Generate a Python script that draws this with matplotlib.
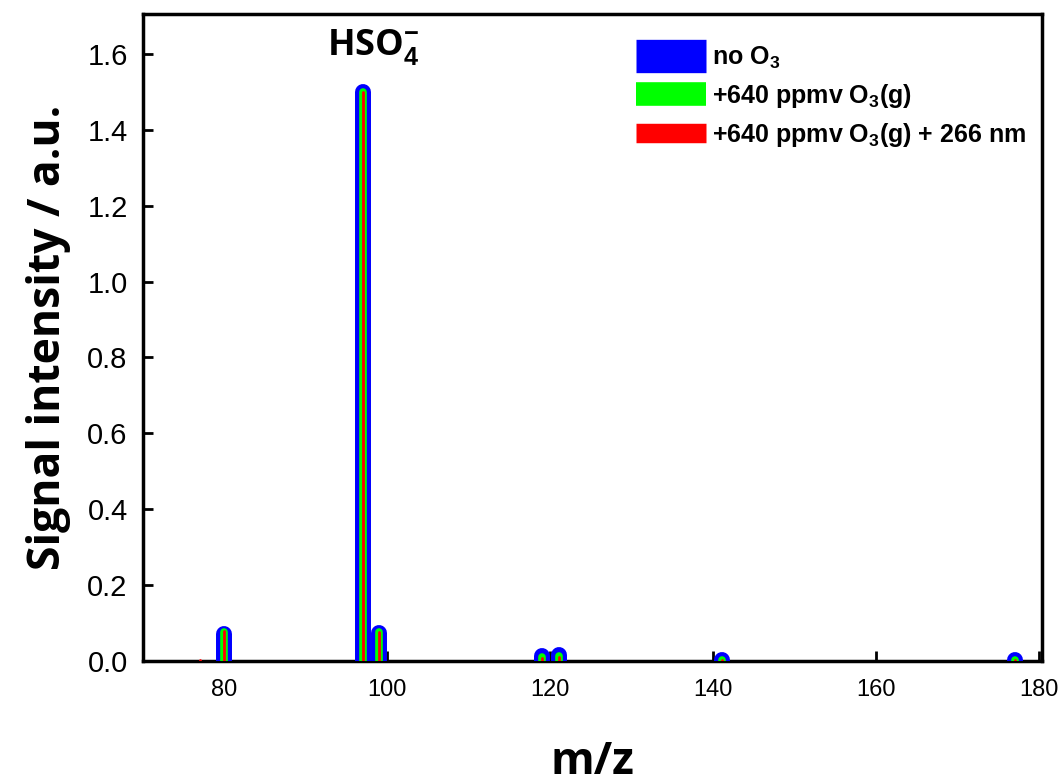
import numpy as np
import matplotlib.pyplot as plt
from matplotlib.lines import Line2D

plt.rcParams['mathtext.fontset'] = 'custom'
plt.rcParams['mathtext.rm'] = 'Liberation Sans:bold'
plt.rcParams['mathtext.bf'] = 'Liberation Sans:bold'

# peak positions (m/z) and intensities for each condition
mz_no_o3 = [80, 97, 99, 119, 121, 141, 177]
int_no_o3 = [0.072, 1.5, 0.074, 0.013, 0.016, 0.003, 0.003]

mz_o3 = [80, 97, 99, 119, 121, 141, 177]
int_o3 = [0.076, 1.5, 0.075, 0.010, 0.013, 0.002, 0.002]

mz_o3_uv = [77, 80, 97, 99, 119, 121, 141, 177]
int_o3_uv = [0.002, 0.078, 1.5, 0.075, 0.008, 0.011, 0.002, 0.002]

labels = [r'no O$_3$', r'+640 ppmv O$_3$(g)', r'+640 ppmv O$_3$(g) + 266 nm']

fig = plt.figure(figsize=(10.63, 7.84), dpi=100)
ax = fig.add_axes([0.1345, 0.157, 0.8455, 0.825])

series = [
    (mz_no_o3, int_no_o3, '#0000ff', 11.5),
    (mz_o3, int_o3, '#00ff00', 5.5),
    (mz_o3_uv, int_o3_uv, '#ff0000', 2.0),
]
for mz, inten, color, lw in series:
    for x, y in zip(mz, inten):
        ax.plot([x, x], [0, y], color=color, lw=lw, solid_capstyle='round', zorder=3)

ax.set_xlim(70, 180.3)
ax.set_ylim(0, 1.705)
ax.set_xticks(np.arange(80, 181, 20))
ax.set_yticks(np.arange(0, 1.61, 0.2))
ax.set_yticklabels(['%.1f' % v for v in np.arange(0, 1.61, 0.2)])

for s in ax.spines.values():
    s.set_linewidth(2.5)
    s.set_zorder(2)
ax.tick_params(direction='in', length=7, width=2)
ax.tick_params(axis='x', labelsize=17, pad=13)
ax.tick_params(axis='y', labelsize=21, pad=11)
for t in ax.get_xticklabels() + ax.get_yticklabels():
    t.set_family('Liberation Sans')

ax.set_xlabel('m/z', fontsize=32, fontweight='bold', family='Open Sans', labelpad=28)
ax.set_ylabel('Signal intensity / a.u.', fontsize=32, fontweight='bold', family='Open Sans', labelpad=12)

ax.text(98.2, 1.565, r'HSO$_4^{\mathbf{-}}$', fontsize=26, fontweight='bold', family='Open Sans',
        ha='center', va='bottom')

handles = [
    Line2D([], [], color='#0000ff', lw=24, solid_capstyle='butt'),
    Line2D([], [], color='#00ff00', lw=17, solid_capstyle='butt'),
    Line2D([], [], color='#ff0000', lw=14, solid_capstyle='butt'),
]
leg = ax.legend(handles, labels, loc='upper left', bbox_to_anchor=(0.523, 0.988),
                frameon=False, handlelength=2.8, handletextpad=0.25, labelspacing=0.45,
                prop={'family': 'Liberation Sans', 'weight': 'bold', 'size': 18})

fig.savefig('out.png', dpi=100)
